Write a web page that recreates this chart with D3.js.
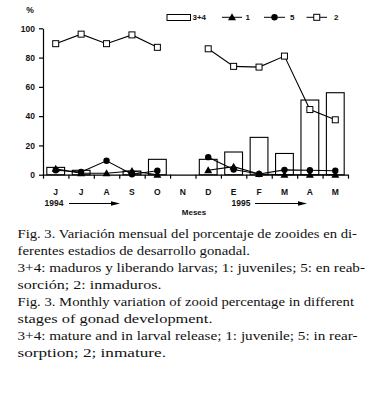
<!DOCTYPE html>
<html><head><meta charset="utf-8">
<script src="https://cdn.jsdelivr.net/npm/d3@7"></script>
<style>body{margin:0;background:#fff}svg{display:block}
.cap{font-family:"Liberation Serif","Times New Roman",Times,serif;font-size:13.5px;fill:#111}
.ax{font-family:"Liberation Sans",Arial,Helvetica,sans-serif;font-weight:bold;fill:#111}
</style>
</head><body>
<svg id="c" width="377" height="403"></svg>
<script>
// ---- data ----
const monthLabels = ["J","J","A","S","O","N","D","E","F","M","A","M"];
const mature34   = [5, 3, 0, 2.5, 10.5, null, 10.5, 15.5, 25.5, 14.5, 51, 56];
const juvenile1  = [4, 1, 1, 2.5, 0, null, 3, 5.5, 0.5, 0, 0, 0];
const reabs5     = [3, 1.8, 9.5, 0.3, 2.7, null, 12, 3.5, 0.5, 3.3, 3, 2.7];
const immature2  = [89.5, 96, 89.5, 95.5, 87, null, 86, 74, 73.5, 81, 44.5, 37.5];
const yTicks = [0, 20, 40, 60, 80, 100];
const yearLabels = ["1994", "1995"];
const captionLines = [
  "Fig. 3. Variación mensual del porcentaje de zooides en di-",
  "ferentes estadios de desarrollo gonadal.",
  "3+4: maduros y liberando larvas; 1: juveniles; 5: en reab-",
  "sorción; 2: inmaduros.",
  "Fig. 3. Monthly variation of zooid percentage in different",
  "stages of gonad development.",
  "3+4: mature and in larval release; 1: juvenile; 5: in rear-",
  "sorption; 2; inmature."
];
const captionEnds = [357, 250, 365, 161.5, 354, 212.5, 357.5, 166];

// ---- chart ----
const svg = d3.select("#c");
const keys = monthLabels.map((d, i) => i);
const x = d3.scaleBand().domain(keys).range([43, 348]).paddingInner(0.3).paddingOuter(0.15);
const xi = d3.scaleLinear().domain([0, 12]).range([43, 348]);
const y = d3.scaleLinear().domain([0, 100]).range([174.7, 28.3]);
const cx = i => x(i) + x.bandwidth() / 2;

// axes
const gy = svg.append("g").attr("transform", "translate(43,0)")
  .call(d3.axisLeft(y).tickValues(yTicks).tickSize(4).tickSizeOuter(0).tickPadding(4));
gy.select(".domain").attr("stroke", "#000").attr("stroke-width", 1.2);
gy.selectAll(".tick line").attr("stroke", "#000").attr("stroke-width", 1.2);
gy.selectAll("text").attr("class", "ax").attr("font-family", null).style("font-size", "8.5px");

const gx = svg.append("g").attr("transform", "translate(0,174.7)")
  .call(d3.axisBottom(xi).tickValues(d3.range(13)).tickFormat("").tickSize(4).tickSizeOuter(0));
gx.select(".domain").attr("stroke", "#000").attr("stroke-width", 1.2);
gx.selectAll(".tick line").attr("stroke", "#000").attr("stroke-width", 1.2);

svg.append("g").selectAll("text").data(monthLabels).join("text")
  .attr("class", "ax").style("font-size", "8.5px")
  .attr("x", (d, i) => cx(i)).attr("y", 194.5).attr("text-anchor", "middle")
  .text(d => d);

svg.append("text").attr("class", "ax").style("font-size", "8.5px")
  .attr("x", 30).attr("y", 13).attr("text-anchor", "middle").text("%");

svg.append("text").attr("class", "ax").style("font-size", "8px")
  .attr("x", 194).attr("y", 215).attr("text-anchor", "middle").text("Meses");

// year labels with arrows
const yearPos = [{tx: 44.5, a0: 69, a1: 120}, {tx: 231.5, a0: 255, a1: 307}];
yearLabels.forEach((t, k) => {
  const p = yearPos[k];
  svg.append("text").attr("class", "ax").style("font-size", "8.5px")
    .attr("x", p.tx).attr("y", 206.3).text(t);
  svg.append("line").attr("x1", p.a0).attr("x2", p.a1 - 6).attr("y1", 203.5).attr("y2", 203.5)
    .attr("stroke", "#000").attr("stroke-width", 1.1);
  svg.append("path").attr("d", `M${p.a1},203.5 L${p.a1 - 9},201.3 L${p.a1 - 9},205.7 Z`).attr("fill", "#000");
});

// bars
svg.append("g").selectAll("rect").data(mature34.map((v, i) => ({v, i})).filter(d => d.v !== null && d.v > 0))
  .join("rect")
  .attr("x", d => x(d.i)).attr("width", x.bandwidth())
  .attr("y", d => y(d.v)).attr("height", d => y(0) - y(d.v))
  .attr("fill", "#fff").attr("stroke", "#000").attr("stroke-width", 1.1);

// lines
const line = d3.line().defined(d => d.v !== null).x(d => cx(d.i)).y(d => y(d.v));
const series = [
  {name: "1", values: juvenile1, marker: "tri"},
  {name: "5", values: reabs5, marker: "circ"},
  {name: "2", values: immature2, marker: "sq"}
];
function marker(g, type, px, py) {
  if (type === "tri") g.append("path").attr("d", `M${px},${py - 4} L${px + 4},${py + 3} L${px - 4},${py + 3} Z`).attr("fill", "#000");
  else if (type === "circ") g.append("circle").attr("cx", px).attr("cy", py).attr("r", 3.2).attr("fill", "#000");
  else g.append("rect").attr("x", px - 3).attr("y", py - 3).attr("width", 6).attr("height", 6)
    .attr("fill", "#fff").attr("stroke", "#000").attr("stroke-width", 1);
}
series.forEach(s => {
  const pts = s.values.map((v, i) => ({v, i}));
  svg.append("path").datum(pts).attr("d", line).attr("fill", "none").attr("stroke", "#000").attr("stroke-width", 1.1);
  const g = svg.append("g");
  pts.filter(d => d.v !== null).forEach(d => marker(g, s.marker, cx(d.i), y(d.v)));
});

// legend
const lg = svg.append("g");
lg.append("rect").attr("x", 167).attr("y", 14.5).attr("width", 23.5).attr("height", 6)
  .attr("fill", "#fff").attr("stroke", "#000").attr("stroke-width", 1);
lg.append("text").attr("class", "ax").style("font-size", "8px").attr("x", 192.5).attr("y", 20.3).text("3+4");
const legPos = [{x0: 222, x1: 242, t: 245.5}, {x0: 264, x1: 285, t: 290}, {x0: 306.5, x1: 327, t: 334}];
series.forEach((s, k) => {
  const p = legPos[k];
  lg.append("line").attr("x1", p.x0).attr("x2", p.x1).attr("y1", 17.3).attr("y2", 17.3).attr("stroke", "#000").attr("stroke-width", 1);
  marker(lg, s.marker, (p.x0 + p.x1) / 2, 17.3);
  lg.append("text").attr("class", "ax").style("font-size", "8px").attr("x", p.t).attr("y", 20.3).text(s.name);
});

// caption
svg.append("g").selectAll("text").data(captionLines).join("text")
  .attr("class", "cap")
  .attr("x", 17.5).attr("y", (d, i) => 238 + i * 17)
  .attr("textLength", (d, i) => captionEnds[i] - 17.5).attr("lengthAdjust", "spacingAndGlyphs")
  .text(d => d);
</script>
</body></html>
